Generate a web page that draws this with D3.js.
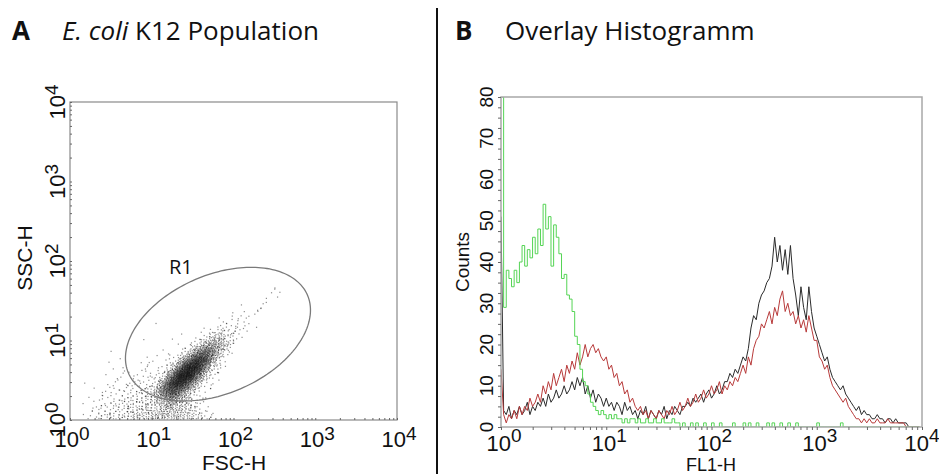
<!DOCTYPE html>
<html>
<head>
<meta charset="utf-8">
<script src="https://cdn.jsdelivr.net/npm/d3@7"></script>
<style>
  body { margin: 0; background: #fff; }
  svg { display: block; }
</style>
</head>
<body>
<svg id="fig" width="939" height="474"></svg>
<script>
// ---------- data ----------
// log decades shown on both flow axes (10^0 .. 10^4)
const decadeExponents = [0, 1, 2, 3, 4];
// histogram count axis labels
const countTicks = [0, 10, 20, 30, 40, 50, 60, 70, 80];

// Panel A: FSC-H / SSC-H event density, cells of 0.1 decade.
// Row index = SSC decade cell (from 10^0 upward), column index = FSC decade cell.
const scatterCell = 0.1;
const scatterRows = [
  /* r0  */ [0,0,3,6,8,10,12,14,15,18,20,22,22,20,16,12,6,2,0,0,0,0,0,0,0,0,0,0],
  /* r1  */ [0,0,2,5,6,8,10,12,12,14,16,20,24,18,12,8,3,0,0,0,0,0,0,0,0,0,0,0],
  /* r2  */ [0,0,1,3,4,6,7,9,10,12,18,40,50,30,12,5,2,0,0,0,0,0,0,0,0,0,0,0],
  /* r3  */ [0,0,0,2,3,4,5,6,7,9,25,80,110,65,22,7,2,0,0,0,0,0,0,0,0,0,0,0],
  /* r4  */ [0,0,1,0,1,2,3,4,4,5,9,45,150,170,80,20,6,2,0,0,0,0,0,0,0,0,0,0],
  /* r5  */ [0,0,0,1,0,1,2,2,3,3,4,12,70,200,210,85,15,3,1,0,0,0,0,0,0,0,0,0],
  /* r6  */ [0,0,0,0,2,0,1,1,2,2,2,4,14,85,190,180,60,10,2,0,0,0,0,0,0,0,0,0],
  /* r7  */ [0,0,0,0,0,1,0,0,1,1,1,2,3,15,70,150,120,30,5,1,0,0,0,0,0,0,0,0],
  /* r8  */ [0,0,0,0,1,0,0,0,0,0,1,1,1,3,10,45,90,65,15,2,0,0,0,0,0,0,0,0],
  /* r9  */ [0,0,0,0,0,0,0,0,0,0,0,0,1,1,2,6,25,45,35,9,1,0,0,0,0,0,0,0],
  /* r10 */ [0,0,0,0,0,0,0,0,1,0,0,0,0,1,0,1,5,12,20,11,3,1,0,0,0,0,0,0],
  /* r11 */ [0,0,0,0,0,0,0,0,0,0,0,0,0,0,0,0,1,2,6,7,5,2,1,0,0,0,0,0],
  /* r12 */ [0,0,0,0,0,0,0,0,0,0,1,0,0,0,0,0,0,0,1,2,3,3,1,0,0,0,0,0],
  /* r13 */ [0,0,0,0,0,0,0,0,0,0,0,0,0,0,0,0,0,0,0,1,1,2,2,1,0,0,0,0],
  /* r14 */ [0,0,0,0,0,0,0,0,0,0,0,0,0,0,0,0,0,0,0,0,0,1,1,2,1,0,0,0],
  /* r15 */ [0,0,0,0,0,0,0,0,0,0,0,0,0,0,0,0,0,0,0,0,0,0,0,1,1,2,0,0],
  /* r16 */ [0,0,0,0,0,0,0,0,0,0,0,0,0,0,0,0,0,0,0,0,0,0,0,0,1,1,0,0]
];

// Gate R1 (elliptical), in decades of FSC-H / SSC-H
const gateName = "R1";
const gateCenter = [1.81, 1.08];
const gateSemiAxes = [1.20, 0.74];
const gateAngleDeg = 25;

// Panel B: FL1-H histograms, channels of 0.025 decade starting at 10^0
const channelStep = 0.025;
const countsGreen = [
  80,29,38,36,34,38,35,40,44,39,
  43,41,46,42,48,44,54,48,51,39,
  49,46,42,36,37,32,31,28,22,20,
  14,11,10,8,6,5,4,3,4,3,
  2,3,2,3,2,2,1,2,1,2,
  2,1,2,1,1,2,1,1,2,1,
  1,2,1,1,1,2,1,1,0,1,
  0,0,1,0,1,0,0,1,0,0,
  1,0,0,1,0,0,0,0,1,0,
  0,0,1,0,1,0,0,1,0,0,
  0,1,0,1,0,0,1,0,0,1,
  0,0,1,0,0,0,0,0,0,0,
  1,0,0,0,0,0,0,0,0,1,
  0,0,0,0,0,0,0,0,0,0,
  0,0,0,0,0,0,0,0,0,0,
  0,0,0,0,0,0,0,0,0,0
];
const countsBlack = [
  51,4,3,5,2,4,3,5,3,4,
  6,3,5,4,6,5,7,5,8,6,
  7,9,7,8,10,8,9,11,9,12,
  10,12,8,10,7,9,6,8,7,5,
  7,5,6,4,6,5,3,6,4,5,
  3,4,2,4,3,5,2,4,3,2,
  4,3,5,2,4,3,5,4,3,5,
  5,6,5,7,6,7,8,6,8,9,
  7,8,10,8,9,11,11,13,12,14,
  13,15,17,16,19,24,27,26,30,32,
  33,35,36,39,46,40,44,38,43,37,
  44,36,32,27,34,29,26,34,28,24,
  22,20,18,16,17,14,12,11,10,9,
  10,8,7,6,5,4,5,3,4,3,
  3,2,2,3,2,2,1,2,2,1,
  2,1,1,1,1,0,0,0,0,0
];
const countsRed = [
  14,3,1,3,2,4,2,5,3,5,
  4,7,5,6,8,6,10,8,11,9,
  13,10,12,14,11,15,13,16,14,18,
  15,17,20,17,19,20,18,19,17,16,
  17,14,15,12,13,10,11,8,9,6,
  7,5,4,5,3,4,2,4,3,2,
  4,3,2,4,3,5,3,4,6,4,
  5,7,5,6,8,6,7,9,7,8,
  10,8,9,11,8,10,9,11,10,12,
  11,13,15,13,17,15,19,21,22,25,
  24,26,28,25,29,27,31,33,28,30,
  27,28,25,27,24,26,23,27,24,21,
  21,17,16,14,15,12,10,9,8,7,
  6,7,5,4,3,2,2,1,2,1,
  2,1,1,2,1,1,1,2,1,1,
  1,1,1,1,0,0,0,0,0,0
];
const histSeries = [
  { name: "black", counts: countsBlack, color: "#2b2b2b", curve: d3.curveLinear },
  { name: "red",   counts: countsRed,   color: "#b83a3a", curve: d3.curveLinear },
  { name: "green", counts: countsGreen, color: "#55d455", curve: d3.curveStepAfter }
];

// ---------- layout ----------
const svg = d3.select("#fig");
const sans = "'Liberation Sans', Arial, Helvetica, sans-serif";
const headFont = "'Open Sans', Lato, sans-serif";

const xA = d3.scaleLog().domain([1, 1e4]).range([70, 397]);
const yA = d3.scaleLog().domain([1, 1e4]).range([420, 102]);
const xB = d3.scaleLog().domain([1, 1e4]).range([501, 922]);
const yB = d3.scaleLinear().domain([0, 80]).range([427, 97]);

// powers of ten label: "10" with raised exponent
function powerLabel(sel, exp, supSize, lift) {
  sel.append("tspan").text("10");
  sel.append("tspan").attr("dy", -lift).attr("font-size", supSize).text(exp);
}

// ---------- headings & divider ----------
function heading(x, letter, parts) {
  const t = svg.append("text").attr("x", x).attr("y", 40)
    .attr("font-family", headFont).attr("font-size", 26).attr("fill", "#111");
  t.append("tspan").attr("font-weight", 700).text(letter);
  parts.forEach((p, i) => {
    const s = t.append("tspan").text(p.text);
    if (i === 0) s.attr("x", p.x);
    if (p.italic) s.attr("font-style", "italic");
  });
}
heading(12, "A", [{ text: "E. coli", italic: true, x: 62 }, { text: " K12 Population" }]);
heading(455, "B", [{ text: "Overlay Histogramm", x: 505 }]);

svg.append("line").attr("x1", 437).attr("x2", 437).attr("y1", 8).attr("y2", 474)
  .attr("stroke", "#111").attr("stroke-width", 2);

// ---------- Panel A: dot plot ----------
const gA = svg.append("g");
gA.append("defs").append("clipPath").attr("id", "clipA")
  .append("rect").attr("x", 70).attr("y", 102).attr("width", 327).attr("height", 318);

// Events of each cell are laid out on an R2 low-discrepancy lattice and
// spread with a tent profile one cell wide on each side, so neighbouring
// cells blend into a smooth density without visible cell edges.
const tent = u => (u < 0.5 ? Math.sqrt(2 * u) - 1 : 1 - Math.sqrt(2 * (1 - u)));
const events = [];
let k = 0;
scatterRows.forEach((row, r) => {
  row.forEach((n, c) => {
    for (let j = 0; j < n; j++, k++) {
      const u = (0.5 + k * 0.7548776662) % 1;
      const v = (0.5 + k * 0.5698402910) % 1;
      const lx = (c + 0.5 + tent(u)) * scatterCell;
      const ly = Math.abs((r + 0.5 + tent(v)) * scatterCell) + 0.004;
      events.push([lx, ly]);
    }
  });
});
gA.append("g").attr("clip-path", "url(#clipA)")
  .selectAll("rect").data(events).join("rect")
  .attr("x", d => xA(Math.pow(10, d[0])) - 0.6)
  .attr("y", d => yA(Math.pow(10, d[1])) - 0.6)
  .attr("width", 1.2).attr("height", 1.2)
  .attr("fill", "#111").attr("fill-opacity", 0.48);

// gate ellipse
const th = gateAngleDeg * Math.PI / 180;
const gatePts = d3.range(0, 2 * Math.PI + 0.001, Math.PI / 90).map(t => {
  const a = gateSemiAxes[0] * Math.cos(t), b = gateSemiAxes[1] * Math.sin(t);
  return [gateCenter[0] + a * Math.cos(th) - b * Math.sin(th),
          gateCenter[1] + a * Math.sin(th) + b * Math.cos(th)];
});
gA.append("path")
  .attr("d", d3.line().x(d => xA(Math.pow(10, d[0]))).y(d => yA(Math.pow(10, d[1])))(gatePts))
  .attr("fill", "none").attr("stroke", "#7a7a7a").attr("stroke-width", 1.3);
gA.append("text").attr("x", 169).attr("y", 274)
  .attr("font-family", headFont).attr("font-size", 20).attr("fill", "#111").text(gateName);

// frame and ticks
gA.append("rect").attr("x", 70).attr("y", 102).attr("width", 327).attr("height", 318)
  .attr("fill", "none").attr("stroke", "#8a8a8a").attr("stroke-width", 1.2);

const tickStyle = g => {
  g.select(".domain").remove();
  g.selectAll("line").attr("stroke", "#666").attr("stroke-width", 1);
  g.selectAll("text").remove();
};
gA.append("g").attr("transform", "translate(0,420)")
  .call(d3.axisBottom(xA).tickValues(xA.ticks()).tickSize(-2).tickFormat(""))
  .call(tickStyle);
gA.append("g").attr("transform", "translate(70,0)")
  .call(d3.axisLeft(yA).tickValues(yA.ticks()).tickSize(-2).tickFormat(""))
  .call(tickStyle);

decadeExponents.forEach(e => {
  const v = Math.pow(10, e);
  const tx = gA.append("text").attr("x", xA(v) + 2).attr("y", 447)
    .attr("text-anchor", "middle").attr("font-family", sans).attr("font-size", 22).attr("fill", "#111");
  powerLabel(tx, e, 19, 7);
  const ty = gA.append("text").attr("transform", `translate(65,${yA(v)}) rotate(-90)`)
    .attr("text-anchor", "middle").attr("font-family", sans).attr("font-size", 22).attr("fill", "#111");
  powerLabel(ty, e, 19, 7);
});
gA.append("text").attr("x", 234).attr("y", 470).attr("text-anchor", "middle")
  .attr("font-family", sans).attr("font-size", 21).attr("fill", "#111").text("FSC-H");
gA.append("text").attr("transform", "translate(32,258) rotate(-90)").attr("text-anchor", "middle")
  .attr("font-family", sans).attr("font-size", 21).attr("fill", "#111").text("SSC-H");

// ---------- Panel B: histogram overlay ----------
const gB = svg.append("g");
gB.append("defs").append("clipPath").attr("id", "clipB")
  .append("rect").attr("x", 501).attr("y", 97).attr("width", 421).attr("height", 330);

const plotB = gB.append("g").attr("clip-path", "url(#clipB)");
histSeries.forEach(s => {
  const line = d3.line()
    .x((d, i) => xB(Math.pow(10, i * channelStep)))
    .y(d => yB(d))
    .curve(s.curve);
  plotB.append("path").attr("d", line(s.counts))
    .attr("fill", "none").attr("stroke", s.color).attr("stroke-width", 1)
    .attr("stroke-linejoin", "round");
});

gB.append("rect").attr("x", 501).attr("y", 97).attr("width", 421).attr("height", 330)
  .attr("fill", "none").attr("stroke", "#a8a8a8").attr("stroke-width", 1.5);

gB.append("g").attr("transform", "translate(0,427)")
  .call(d3.axisBottom(xB).tickValues(xB.ticks()).tickSize(3).tickFormat(""))
  .call(tickStyle);
gB.append("g").attr("transform", "translate(501,0)")
  .call(d3.axisLeft(yB).tickValues(d3.range(0, 80.01, 2.5)).tickSize(3).tickFormat(""))
  .call(tickStyle);

decadeExponents.forEach(e => {
  const v = Math.pow(10, e);
  const tx = gB.append("text").attr("x", xB(v) + (e === 4 ? 0 : 3)).attr("y", 451)
    .attr("text-anchor", "middle").attr("font-family", sans).attr("font-size", 22).attr("fill", "#111");
  powerLabel(tx, e, 19, 9);
});
countTicks.forEach(c => {
  gB.append("text").attr("transform", `translate(493,${yB(c)}) rotate(-90)`)
    .attr("text-anchor", "middle").attr("font-family", sans).attr("font-size", 19)
    .attr("fill", "#111").text(c);
});
gB.append("text").attr("x", 711).attr("y", 471).attr("text-anchor", "middle")
  .attr("font-family", sans).attr("font-size", 18).attr("fill", "#111").text("FL1-H");
gB.append("text").attr("transform", "translate(469,262) rotate(-90)").attr("text-anchor", "middle")
  .attr("font-family", sans).attr("font-size", 19).attr("fill", "#111").text("Counts");
</script>
</body>
</html>
